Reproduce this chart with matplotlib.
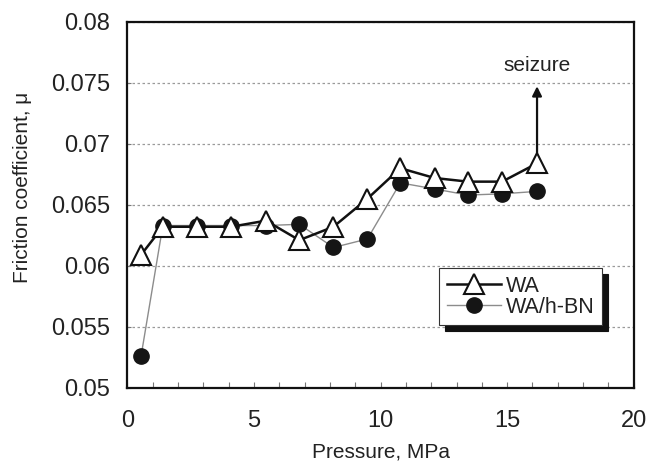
import matplotlib
matplotlib.use('Agg')
import matplotlib.pyplot as plt

# pressure steps, MPa
pressure = [0.54, 1.40, 2.74, 4.10, 5.47, 6.79, 8.14, 9.48, 10.78, 12.13, 13.45, 14.80, 16.18]
# friction coefficient
mu_wa = [0.0609, 0.0632, 0.0632, 0.0632, 0.0637, 0.0621, 0.0632, 0.0655, 0.0680, 0.0672, 0.0669, 0.0669, 0.0684]
mu_wa_hbn = [0.0526, 0.0633, 0.0633, 0.0633, 0.0633, 0.0634, 0.0615, 0.0622, 0.0668, 0.0663, 0.0658, 0.0659, 0.0661]

y_ticks = [0.05, 0.055, 0.06, 0.065, 0.07, 0.075, 0.08]
y_tick_labels = ['0.05', '0.055', '0.06', '0.065', '0.07', '0.075', '0.08']
x_ticks = [0, 5, 10, 15, 20]

plt.rcParams['font.family'] = ['Liberation Sans', 'DejaVu Sans']
txt_color = '#222222'

fig = plt.figure(figsize=(6.5, 4.66), dpi=100)
ax = fig.add_axes([0.196, 0.168, 0.779, 0.785])

ax.plot(pressure, mu_wa_hbn, color='#8c8c8c', lw=1.0, marker='o', ms=11,
        mfc='#151515', mec='#151515', label='WA/h-BN', zorder=3)
ax.plot(pressure, mu_wa, color='#111111', lw=1.8, marker='^', ms=14,
        mfc='white', mec='#111111', mew=1.5, label='WA', zorder=4)

# seizure arrow
ax.annotate('', xy=(pressure[-1], 0.07495), xytext=(pressure[-1], 0.0690),
            arrowprops=dict(arrowstyle='-|>', color='#111111', lw=1.6, mutation_scale=14))
ax.text(pressure[-1], 0.0764, 'seizure', ha='center', va='center', fontsize=15, color=txt_color)

ax.set_xlim(0, 20)
ax.set_ylim(0.05, 0.08)
ax.set_xticks(x_ticks)
ax.set_xticks(range(0, 21), minor=True)
ax.set_yticks(y_ticks)
ax.set_yticklabels(y_tick_labels)

ax.tick_params(axis='x', which='both', direction='in', length=4, width=0.8, color='#777777',
               labelsize=17, labelcolor=txt_color, pad=16)
ax.tick_params(axis='y', direction='in', length=3, width=0.8, color='#777777',
               labelsize=17, labelcolor=txt_color, pad=12.5)

ax.yaxis.grid(True, linestyle=(0, (2, 2)), color='#9a9a9a', lw=0.9)
for s in ax.spines.values():
    s.set_linewidth(1.6)
    s.set_color('#111111')

ax.set_xlabel('Pressure, MPa', fontsize=15, color=txt_color, va='center')
ax.xaxis.set_label_coords(0.5, -0.176)
ax.set_ylabel('Friction coefficient, μ', fontsize=15, color=txt_color, va='center')
ax.yaxis.set_label_coords(-0.208, 0.547)

handles, labels = ax.get_legend_handles_labels()
leg = ax.legend(handles[::-1], labels[::-1], loc='lower left', bbox_to_anchor=(0.616, 0.171),
                fontsize=15.5, frameon=True, fancybox=False, handlelength=2.5,
                handletextpad=0.25, labelspacing=0.0, borderpad=0.35, borderaxespad=0,
                shadow={'ox': 4, 'oy': -4, 'color': '#111111', 'alpha': 1})
leg.get_frame().set_edgecolor('#333333')
leg.get_frame().set_linewidth(0.8)
for t in leg.get_texts():
    t.set_color(txt_color)

fig.savefig('out.png', dpi=100)
